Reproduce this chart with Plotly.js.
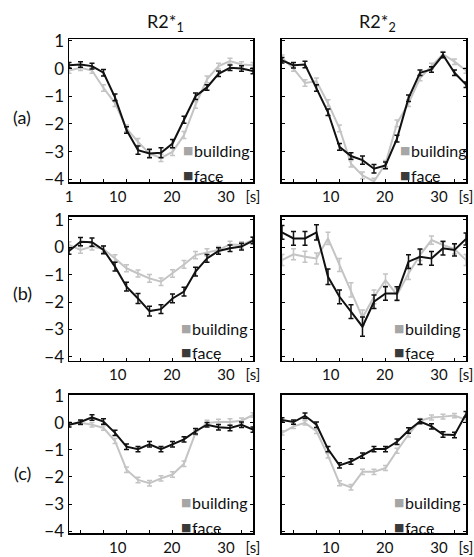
<!DOCTYPE html>
<html>
<head>
<meta charset="utf-8">
<script src="https://cdn.plot.ly/plotly-3.0.1.min.js"></script>
<style>html,body{margin:0;padding:0;background:#fff;}</style>
</head>
<body>
<div id="chart" style="width:474px;height:557px;"></div>
<script>
// time axis (s), 17 samples spanning the plotted window
const timePoints = [1, 3.125, 5.25, 7.375, 9.5, 11.625, 13.75, 15.875, 18, 20.125, 22.25, 24.375, 26.5, 28.625, 30.75, 32.875, 35];
const minorTickTimes = [3.125, 7.375, 11.625, 15.875, 20.125, 24.375, 28.625, 32.875];
const columnTitles = ["R2*<sub>1</sub>", "R2*<sub>2</sub>"];
const rowLabels = ["(a)", "(b)", "(c)"];
const seriesNames = ["building", "face"];
const yTicks = [-4, -3, -2, -1, 0, 1];

// (a) R2*1
const aR1Building = [-0.07, 0.03, -0.07, -0.70, -1.25, -2.16, -2.65, -3.07, -3.23, -3.01, -2.40, -1.31, -0.39, 0.09, 0.27, 0.15, 0.12];
const aR1BuildingErr = [0.10, 0.10, 0.10, 0.12, 0.12, 0.12, 0.12, 0.13, 0.13, 0.13, 0.13, 0.12, 0.12, 0.10, 0.10, 0.10, 0.10];
const aR1Face = [0.12, 0.15, 0.09, -0.15, -1.04, -2.22, -2.95, -3.07, -3.04, -2.71, -1.85, -1.00, -0.68, -0.19, 0.03, 0.00, -0.09];
const aR1FaceErr = [0.10, 0.10, 0.10, 0.12, 0.12, 0.12, 0.15, 0.15, 0.18, 0.15, 0.13, 0.12, 0.10, 0.10, 0.10, 0.10, 0.10];
// (a) R2*2
const aR2Building = [0.39, 0.00, -0.52, -0.46, -1.25, -2.16, -3.44, -3.86, -4.08, -3.44, -1.98, -1.25, -0.34, 0.09, 0.52, 0.25, -0.07];
const aR2BuildingErr = [0.10, 0.10, 0.12, 0.12, 0.12, 0.12, 0.12, 0.12, 0.12, 0.12, 0.12, 0.12, 0.10, 0.10, 0.10, 0.10, 0.10];
const aR2Face = [0.30, 0.12, 0.15, -0.70, -1.58, -2.83, -3.16, -3.31, -3.62, -3.50, -2.53, -1.07, -0.15, -0.03, 0.49, -0.15, -0.58];
const aR2FaceErr = [0.10, 0.10, 0.12, 0.12, 0.12, 0.12, 0.12, 0.15, 0.15, 0.12, 0.12, 0.12, 0.10, 0.10, 0.10, 0.10, 0.10];
// (b) R2*1
const bR1Building = [0.08, -0.10, 0.02, -0.07, -0.41, -0.77, -0.96, -1.14, -1.26, -0.96, -0.63, -0.29, -0.19, -0.10, 0.10, 0.08, 0.26];
const bR1BuildingErr = [0.12, 0.12, 0.12, 0.12, 0.13, 0.13, 0.13, 0.14, 0.14, 0.14, 0.14, 0.13, 0.13, 0.12, 0.12, 0.12, 0.12];
const bR1Face = [-0.14, 0.20, 0.18, -0.10, -0.71, -1.44, -1.87, -2.33, -2.26, -1.87, -1.62, -0.89, -0.41, -0.14, -0.04, 0.02, 0.24];
const bR1FaceErr = [0.12, 0.15, 0.15, 0.14, 0.16, 0.16, 0.18, 0.18, 0.16, 0.16, 0.16, 0.16, 0.14, 0.12, 0.12, 0.12, 0.12];
// (b) R2*2
const bR2Building = [-0.47, -0.26, -0.35, -0.41, 0.32, -0.65, -1.56, -2.57, -1.81, -1.20, -1.74, -0.96, -0.29, 0.26, 0.08, -0.07, -0.47];
const bR2BuildingErr = [0.20, 0.20, 0.20, 0.20, 0.22, 0.24, 0.26, 0.28, 0.25, 0.22, 0.22, 0.22, 0.20, 0.15, 0.15, 0.18, 0.20];
const bR2Face = [0.54, 0.32, 0.32, 0.54, -1.08, -1.81, -2.35, -2.90, -1.99, -1.69, -1.69, -0.53, -0.35, -0.41, -0.04, -0.10, 0.30];
const bR2FaceErr = [0.25, 0.25, 0.25, 0.28, 0.28, 0.25, 0.25, 0.35, 0.25, 0.25, 0.25, 0.25, 0.28, 0.25, 0.25, 0.22, 0.22];
// (c) R2*1
const cR1Building = [-0.07, 0.00, -0.07, -0.19, -0.67, -1.73, -2.11, -2.23, -2.05, -1.91, -1.51, -0.37, 0.00, 0.03, 0.03, 0.08, 0.29];
const cR1BuildingErr = [0.08, 0.08, 0.08, 0.08, 0.09, 0.10, 0.10, 0.10, 0.10, 0.10, 0.10, 0.09, 0.10, 0.10, 0.12, 0.10, 0.08];
const cR1Face = [-0.07, 0.03, 0.20, 0.05, -0.37, -0.88, -0.97, -0.79, -0.97, -0.79, -0.61, -0.31, -0.07, -0.16, -0.19, -0.07, -0.25];
const cR1FaceErr = [0.08, 0.08, 0.10, 0.10, 0.10, 0.10, 0.10, 0.10, 0.10, 0.10, 0.10, 0.10, 0.08, 0.10, 0.10, 0.10, 0.10];
// (c) R2*2
const cR2Building = [-0.37, -0.13, 0.00, -0.31, -1.21, -2.23, -2.38, -1.81, -1.81, -1.67, -1.03, -0.43, 0.08, 0.20, 0.23, 0.27, 0.11];
const cR2BuildingErr = [0.08, 0.08, 0.08, 0.08, 0.09, 0.09, 0.10, 0.10, 0.10, 0.09, 0.09, 0.09, 0.08, 0.09, 0.09, 0.08, 0.08];
const cR2Face = [0.11, 0.03, 0.26, -0.07, -0.97, -1.57, -1.43, -1.21, -0.97, -0.97, -0.70, -0.28, 0.05, -0.13, -0.43, -0.45, 0.32];
const cR2FaceErr = [0.08, 0.08, 0.10, 0.10, 0.10, 0.10, 0.10, 0.10, 0.10, 0.10, 0.10, 0.10, 0.08, 0.10, 0.10, 0.10, 0.10];

const panels = [
  {b: aR1Building, be: aR1BuildingErr, f: aR1Face, fe: aR1FaceErr},
  {b: aR2Building, be: aR2BuildingErr, f: aR2Face, fe: aR2FaceErr},
  {b: bR1Building, be: bR1BuildingErr, f: bR1Face, fe: bR1FaceErr},
  {b: bR2Building, be: bR2BuildingErr, f: bR2Face, fe: bR2FaceErr},
  {b: cR1Building, be: cR1BuildingErr, f: cR1Face, fe: cR1FaceErr},
  {b: cR2Building, be: cR2BuildingErr, f: cR2Face, fe: cR2FaceErr}
];

const FONT = "Lato, 'Open Sans', sans-serif";
const TXT = "#111";
const GRAY = "#c4c4c4", BLACK = "#111111";
const LEG_GRAY = "#a6a6a6", LEG_DARK = "#3a3a3a";

// geometry (paper fractions)
const xDomains = [[0, 0.4635], [0.5365, 1]];
const yDomains = [[0.7105, 1], [0.3482, 0.6397], [0, 0.2794]];
const yRanges = [[-4.1, 1.07], [-4.15, 1.1], [-4.07, 1.03]];

const traces = [];
const layout = {
  width: 474, height: 557,
  margin: {l: 69, r: 8, t: 39, b: 24},
  paper_bgcolor: "#fff", plot_bgcolor: "#fff",
  showlegend: false,
  font: {family: FONT, size: 16, color: TXT},
  annotations: []
};

panels.forEach((p, k) => {
  const row = Math.floor(k / 2), col = k % 2;
  const n = k + 1;
  const xa = n === 1 ? "x" : "x" + n;
  const ya = n === 1 ? "y" : "y" + n;
  traces.push({
    x: timePoints, y: p.b, xaxis: xa, yaxis: ya, mode: "lines", name: seriesNames[0],
    line: {color: GRAY, width: 2},
    error_y: {type: "data", array: p.be, visible: true, color: GRAY, thickness: 1.5, width: 2.5}
  });
  traces.push({
    x: timePoints, y: p.f, xaxis: xa, yaxis: ya, mode: "lines", name: seriesNames[1],
    line: {color: BLACK, width: 2},
    error_y: {type: "data", array: p.fe, visible: true, color: BLACK, thickness: 1.5, width: 2.5}
  });
  const xTickVals = (k === 0) ? [1, 10, 20, 30, 35] : [10, 20, 30, 35];
  const xTickText = (k === 0) ? ["1", "10", "20", "30", "[s]"] : ["10", "20", "30", "[s]"];
  layout["xaxis" + (n === 1 ? "" : n)] = {
    domain: xDomains[col], anchor: ya, range: [1, 35],
    showline: true, linecolor: "#000", linewidth: 1.5, mirror: true,
    showgrid: false, zeroline: false,
    tickmode: "array", tickvals: xTickVals, ticktext: xTickText, ticks: "", ticklen: 0,
    tickfont: {family: FONT, size: 15, color: TXT},
    minor: {tickmode: "array", tickvals: minorTickTimes, ticks: "inside", ticklen: 3, tickcolor: "#000", tickwidth: 1, showgrid: false},
    fixedrange: true
  };
  layout["yaxis" + (n === 1 ? "" : n)] = {
    domain: yDomains[row], anchor: xa, range: yRanges[row],
    showline: true, linecolor: "#000", linewidth: 1.5, mirror: "ticks",
    showgrid: false, zeroline: false,
    tickmode: "array", tickvals: yTicks, ticks: "inside", ticklen: 3, tickcolor: "#000",
    showticklabels: col === 0,
    tickfont: {family: FONT, size: 17, color: TXT},
    fixedrange: true
  };
  // in-panel key: square swatch + label
  const lx = (k === 0) ? 21.9 : (k === 1 ? 22.6 : 21.5);
  const keyY = [-2.95, -3.85];
  const keyCol = [LEG_GRAY, LEG_DARK];
  for (let s = 0; s < 2; s++) {
    layout.annotations.push({
      xref: xa, yref: ya, x: lx, y: keyY[s], xanchor: "left", yanchor: "middle", showarrow: false,
      text: "■", font: {family: "DejaVu Sans", size: 11, color: keyCol[s]}, borderpad: 0
    });
    layout.annotations.push({
      xref: xa, yref: ya, x: lx + 2.0, y: keyY[s], xanchor: "left", yanchor: "middle", showarrow: false,
      text: seriesNames[s], font: {family: FONT, size: 16, color: TXT}, borderpad: 0
    });
  }
});

// column titles
[0.242, 0.778].forEach((px, i) => {
  layout.annotations.push({
    xref: "paper", yref: "paper", x: px, y: 1.0344, xanchor: "center", yanchor: "middle",
    showarrow: false, text: columnTitles[i], font: {family: FONT, size: 18, color: TXT}
  });
});
// row labels
[0.842, 0.486, 0.121].forEach((py, i) => {
  layout.annotations.push({
    xref: "paper", yref: "paper", x: -0.118, y: py, xanchor: "center", yanchor: "middle",
    showarrow: false, text: rowLabels[i], font: {family: FONT, size: 18, color: TXT}
  });
});

Plotly.newPlot("chart", traces, layout, {staticPlot: true, displayModeBar: false});
</script>
</body>
</html>
